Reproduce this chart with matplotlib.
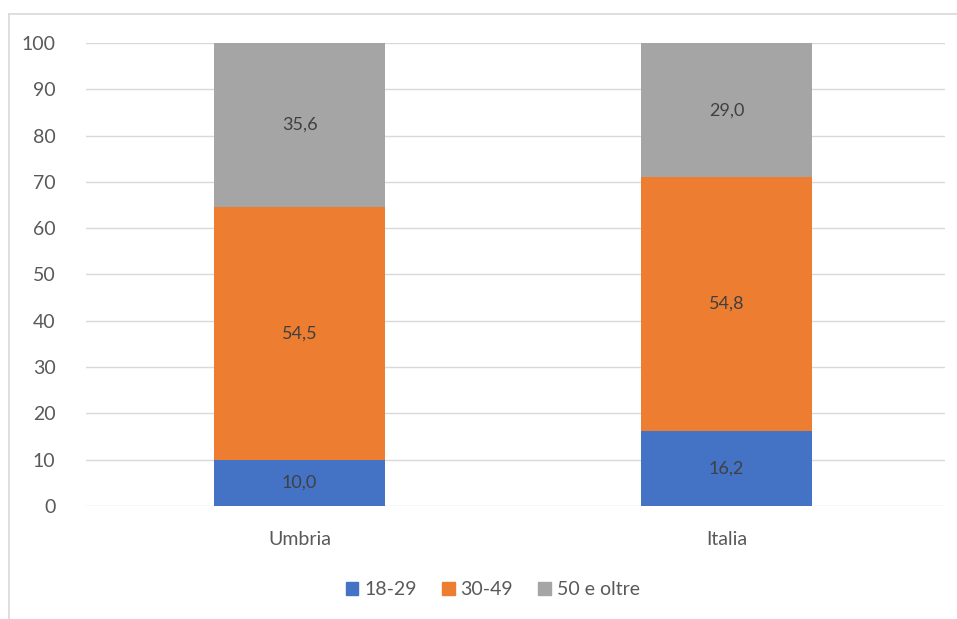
import numpy as np
import matplotlib.pyplot as plt
from matplotlib.patches import Rectangle
from matplotlib.lines import Line2D

categories = ['Umbria', 'Italia']
series_names = ['18-29', '30-49', '50 e oltre']
v_18_29 = [10.0, 16.2]
v_30_49 = [54.5, 54.8]
v_50_oltre = [35.6, 29.0]
colors = ['#4472C4', '#ED7D31', '#A5A5A5']

plt.rcParams['font.family'] = ['Lato', 'DejaVu Sans']
txt = '#595959'

fig = plt.figure(figsize=(9.57, 6.19), dpi=100)
ax = fig.add_axes([0.0899, 0.1826, 0.8976, 0.7479])

x = np.arange(len(categories))
bottom = np.zeros(len(categories))
for vals, name, c in zip([v_18_29, v_30_49, v_50_oltre], series_names, colors):
    vals = np.array(vals)
    ax.bar(x, vals, width=0.4, bottom=bottom, color=c, label=name, zorder=2)
    for xi, b, v in zip(x, bottom, vals):
        ax.text(xi, b + v / 2, '{:.1f}'.format(v).replace('.', ','),
                ha='center', va='center', fontsize=13, color='#404040', zorder=3)
    bottom += vals

ax.set_xlim(-0.5, 1.512)
ax.set_ylim(0, 100)
ax.set_yticks(np.arange(0, 101, 10))
ax.set_xticks(x)
ax.set_xticklabels(categories)
ax.grid(axis='y', color='#D9D9D9', linewidth=1, zorder=0)
for s in ax.spines.values():
    s.set_visible(False)
ax.tick_params(axis='both', length=0, labelsize=14, colors=txt)
ax.tick_params(axis='y', pad=22)
ax.tick_params(axis='x', pad=18)

# frame of the chart area (cropped on right and bottom)
fig.add_artist(Line2D([9 / 957, 1], [1 - 14 / 619, 1 - 14 / 619],
                      color='#D9D9D9', linewidth=1.2, transform=fig.transFigure))
fig.add_artist(Line2D([9 / 957, 9 / 957], [0, 1 - 14 / 619],
                      color='#D9D9D9', linewidth=1.2, transform=fig.transFigure))

handles = [Rectangle((0, 0), 1, 1, color=c) for c in colors]
fig.legend(handles, series_names, loc='center', bbox_to_anchor=(0.515, 0.047),
           ncol=3, frameon=False, fontsize=14, labelcolor=txt,
           handlelength=0.65, handleheight=0.65, handletextpad=0.3, columnspacing=1.3)

fig.savefig('out.png', dpi=100)
